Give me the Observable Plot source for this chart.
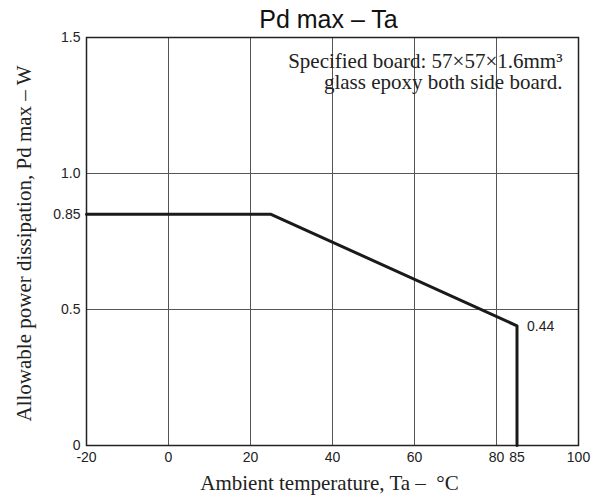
<!DOCTYPE html>
<html>
<head>
<meta charset="utf-8">
<script src="https://cdn.jsdelivr.net/npm/d3@7"></script>
<script src="https://cdn.jsdelivr.net/npm/@observablehq/plot@0.6"></script>
<style>
  html, body { margin: 0; padding: 0; background: #fff; }
</style>
</head>
<body>
<div id="chart"></div>
<script>
// Data
const temps = [-20, 25, 85, 85];
const pdMax = [0.85, 0.85, 0.44, 0];
const xTicks = [-20, 0, 20, 40, 60, 80, 85, 100];
const yTicks = [0, 0.5, 0.85, 1.0, 1.5];
const yTickLabels = ["0", "0.5", "0.85", "1.0", "1.5"];
const xGrid = [0, 20, 40, 60, 80];
const yGrid = [0.5, 1.0];
const title = "Pd max – Ta";
const xLabel = "Ambient temperature, Ta –\u00A0 \u00B0C";
const yLabel = "Allowable power dissipation, Pd max – W";
const note = "Specified board: 57\u00D757\u00D71.6mm\u00B3\nglass epoxy both side board.";
const endLabel = "0.44";

const curve = temps.map((t, i) => ({t, p: pdMax[i]}));
const yFmt = new Map(yTicks.map((v, i) => [v, yTickLabels[i]]));

const serif = "'Liberation Serif', 'Times New Roman', serif";
const sans = "'Liberation Sans', Arial, sans-serif";

const chart = Plot.plot({
  width: 606,
  height: 500,
  marginLeft: 86,
  marginRight: 28,
  marginTop: 37,
  marginBottom: 55,
  style: {fontFamily: sans, fontSize: "14px", color: "#222", background: "#fff"},
  x: {domain: [-20, 100]},
  y: {domain: [0, 1.5]},
  marks: [
    Plot.ruleX(xGrid, {stroke: "#555", strokeWidth: 1}),
    Plot.ruleY(yGrid, {stroke: "#555", strokeWidth: 1}),
    Plot.frame({stroke: "#222", strokeWidth: 1.5}),
    Plot.axisX({ticks: xTicks, tickSize: 0, tickPadding: 7, label: null, fontSize: 14, tickFormat: d => String(d)}),
    Plot.axisY({ticks: yTicks, tickSize: 0, tickPadding: 6, label: null, tickFormat: d => yFmt.get(d), fontSize: 14}),
    Plot.line(curve, {x: "t", y: "p", stroke: "#1a1a1a", strokeWidth: 3}),
    Plot.text([endLabel], {x: [85], y: [0.44], text: d => d, dx: 10, dy: 1, textAnchor: "start", fontSize: 14, fontFamily: sans, fill: "#222"}),
    Plot.text([note], {frameAnchor: "top-right", text: d => d, dx: -16, dy: 15, lineAnchor: "top", textAnchor: "end", fontFamily: serif, fontSize: 21, lineHeight: 1.03, fill: "#222"}),
    Plot.text([title], {frameAnchor: "top", text: d => d, dx: -4, dy: -10, lineAnchor: "bottom", fontFamily: sans, fontSize: 25, fill: "#111"}),
    Plot.text([xLabel], {frameAnchor: "bottom", text: d => d, dx: -3, dy: 44, lineAnchor: "bottom", fontFamily: serif, fontSize: 21, fill: "#222"}),
    Plot.text([yLabel], {frameAnchor: "left", text: d => d, dx: -62, dy: 2, rotate: -90, textAnchor: "middle", fontFamily: serif, fontSize: 21, fill: "#222"})
  ]
});
document.getElementById("chart").appendChild(chart);
</script>
</body>
</html>
